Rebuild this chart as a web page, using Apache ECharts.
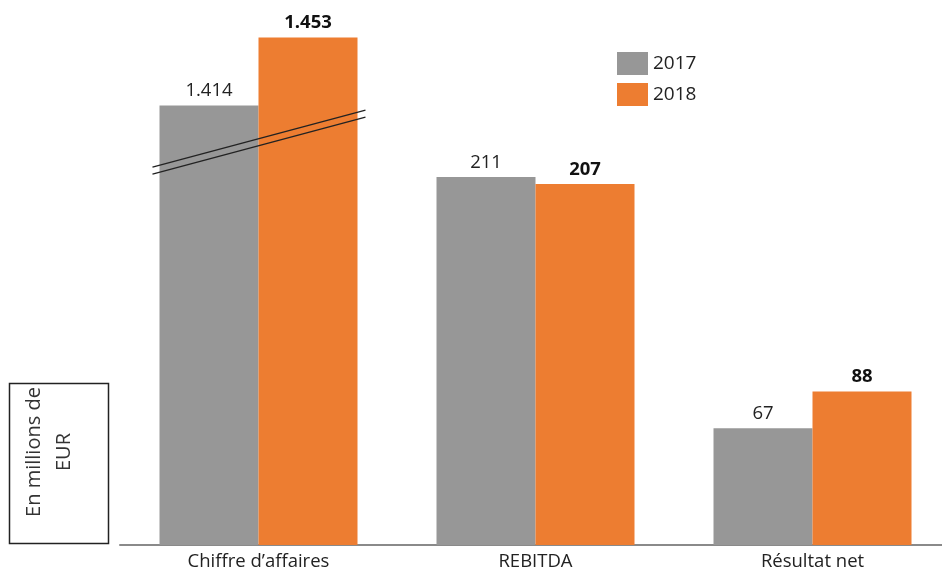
<!DOCTYPE html>
<html>
<head>
<meta charset="utf-8">
<script src="https://cdn.jsdelivr.net/npm/echarts@6/dist/echarts.min.js"></script>
<style>
  html, body { margin: 0; padding: 0; background: #fff; }
  #chart { width: 942px; height: 572px; }
</style>
</head>
<body>
<div id="chart"></div>
<script>
const categories = ['Chiffre d\u2019affaires', 'REBITDA', 'R\u00e9sultat net'];
const seriesNames = ['2017', '2018'];
const values2017 = [1414, 211, 67];
const values2018 = [1453, 207, 88];
const axisBreak = { start: 231, end: 1393 };
const axisLabelText = 'En millions de\nEUR';

const FONT = '"Open Sans", sans-serif';
function fmt(v) {
  return String(v).replace(/\B(?=(\d{3})+(?!\d))/g, '.');
}

const chart = echarts.init(document.getElementById('chart'), null, { renderer: 'canvas' });

chart.setOption({
  animation: false,
  backgroundColor: '#ffffff',
  textStyle: { fontFamily: FONT },
  legend: {
    orient: 'vertical',
    left: 612,
    top: 47,
    itemWidth: 31,
    itemHeight: 23,
    itemGap: 8,
    icon: 'rect',
    textStyle: { fontSize: 19, color: '#222', fontFamily: FONT },
    data: seriesNames
  },
  grid: { left: 120, top: 20, width: 831, height: 525, outerBoundsMode: 'none', containLabel: false },
  xAxis: {
    type: 'category',
    data: categories,
    axisLine: { show: true, lineStyle: { color: '#8a8a8a', width: 2 } },
    axisTick: { show: false },
    axisLabel: { fontSize: 18.5, color: '#222', margin: 7, fontFamily: FONT }
  },
  yAxis: {
    type: 'value',
    min: 0,
    max: 1463,
    show: false,
    splitLine: { show: false },
    breaks: [{ start: axisBreak.start, end: axisBreak.end, gap: 0 }],
    breakArea: { show: false, itemStyle: { opacity: 0, borderWidth: 0 } }
  },
  series: [
    {
      name: seriesNames[0],
      type: 'bar',
      data: values2017,
      barWidth: 99,
      barGap: '0%',
      itemStyle: { color: '#979797' },
      label: {
        show: true, position: 'top', distance: 5,
        fontSize: 18.5, color: '#222', fontFamily: FONT,
        formatter: p => fmt(p.value)
      }
    },
    {
      name: seriesNames[1],
      type: 'bar',
      data: values2018,
      barWidth: 99,
      barGap: '0%',
      itemStyle: { color: '#ED7D31' },
      label: {
        show: true, position: 'top', distance: 5,
        fontSize: 18.5, color: '#111', fontWeight: 'bold', fontFamily: FONT,
        formatter: p => fmt(p.value)
      }
    }
  ]
});

// Break marks anchored on the axis break position of the first category
const p = chart.convertToPixel({ gridIndex: 0 }, [0, axisBreak.start]);
chart.setOption({
  graphic: [
    {
      type: 'line', z: 100,
      shape: { x1: p[0] - 106, y1: p[1] + 25, x2: p[0] + 107, y2: p[1] - 32 },
      style: { stroke: '#222', lineWidth: 1.3 }
    },
    {
      type: 'line', z: 100,
      shape: { x1: p[0] - 106, y1: p[1] + 32, x2: p[0] + 107, y2: p[1] - 25 },
      style: { stroke: '#222', lineWidth: 1.3 }
    },
    {
      type: 'rect', z: 100,
      shape: { x: 9.5, y: 383.5, width: 99, height: 160 },
      style: { fill: '#fff', stroke: '#222', lineWidth: 1.5 }
    },
    {
      type: 'text', z: 101,
      x: 49, y: 452,
      rotation: Math.PI / 2,
      style: {
        text: axisLabelText,
        font: '20px ' + FONT,
        fill: '#333',
        align: 'center',
        verticalAlign: 'middle',
        lineHeight: 30
      }
    }
  ]
});
</script>
</body>
</html>
